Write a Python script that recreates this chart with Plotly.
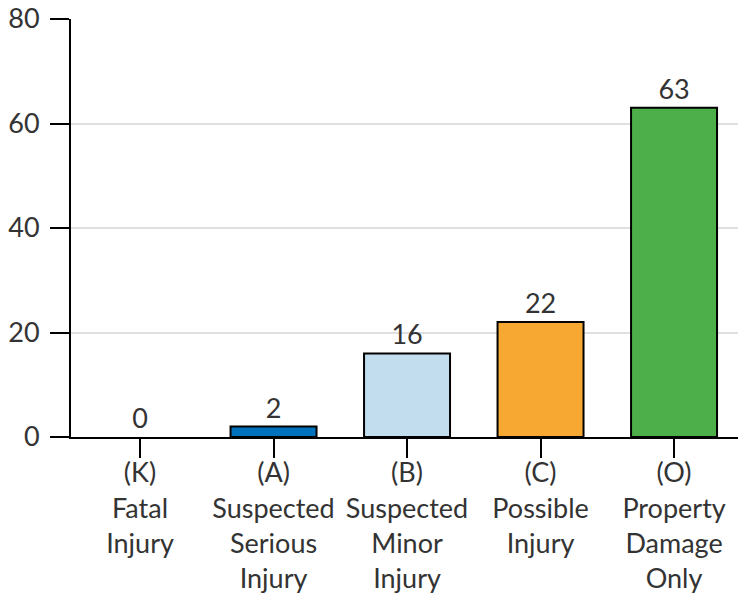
import plotly.graph_objects as go

categories = ["(K)<br>Fatal<br>Injury", "(A)<br>Suspected<br>Serious<br>Injury",
              "(B)<br>Suspected<br>Minor<br>Injury", "(C)<br>Possible<br>Injury",
              "(O)<br>Property<br>Damage<br>Only"]
values = [0, 2, 16, 22, 63]
colors = ["#0072BC", "#0072BC", "#C1DDEE", "#F7A833", "#4DAF4A"]
y_ticks = [0, 20, 40, 60, 80]

font = "Lato, 'Open Sans', sans-serif"
txt = "#333333"
fs = 27

fig = go.Figure(go.Bar(
    x=categories, y=values,
    marker=dict(color=colors, line=dict(color="black", width=[0 if v == 0 else 2 for v in values])),
    text=[str(v) for v in values], textposition="outside",
    textfont=dict(size=fs, color=txt, family=font),
    cliponaxis=False,
))
fig.update_layout(
    width=738, height=595,
    margin=dict(l=71, r=0, t=19, b=158),
    plot_bgcolor="white", paper_bgcolor="white",
    bargap=0.356,
    showlegend=False,
    font=dict(family=font, size=fs, color=txt),
)
fig.update_yaxes(range=[0, 80], tickvals=y_ticks, showgrid=True, gridcolor="#E0E0E0", gridwidth=2,
                 showline=True, linecolor="black", linewidth=2,
                 ticks="outside", ticklen=19, tickwidth=2, tickcolor="black",
                 tickfont=dict(size=fs, color=txt), zeroline=False,
                 automargin=False, ticklabelstandoff=5)
fig.update_xaxes(range=[-0.517, 4.479], showline=True, linecolor="black", linewidth=2,
                 ticks="outside", ticklen=19, tickwidth=2, tickcolor="black",
                 tickfont=dict(size=fs, color=txt), tickangle=0, automargin=False,
                 ticklabelstandoff=-8)
fig.write_html("out.html", config={"displayModeBar": False},
               post_script="document.body.style.margin='0';")
